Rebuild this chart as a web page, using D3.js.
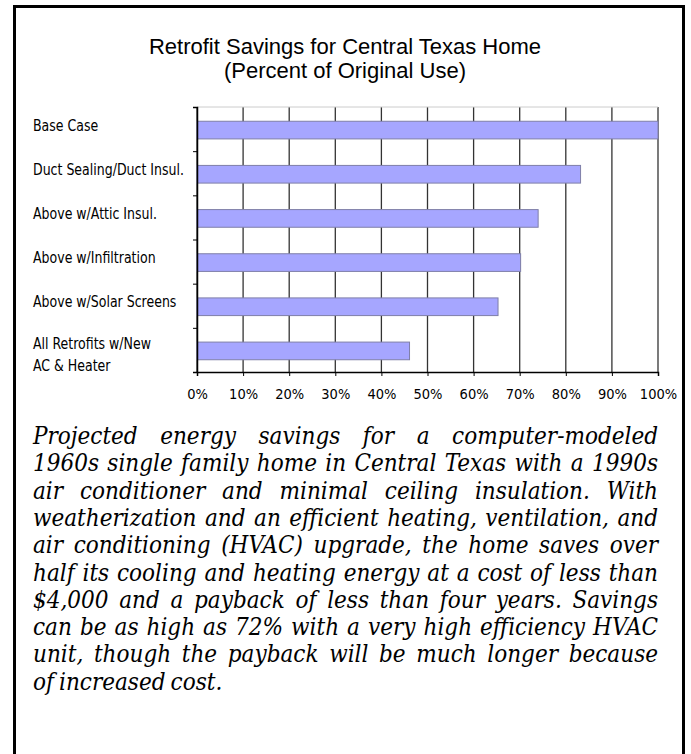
<!DOCTYPE html>
<html>
<head>
<meta charset="utf-8">
<script src="https://cdn.jsdelivr.net/npm/d3@7"></script>
<style>
    body { margin: 0; background: #fff; }
    svg { display: block; }
</style>
</head>
<body>
<div id="chart"></div>
<script>
// Chart data
const categories = [
    "Base Case",
    "Duct Sealing/Duct Insul.",
    "Above w/Attic Insul.",
    "Above w/Infiltration",
    "Above w/Solar Screens",
    "All Retrofits w/New\nAC & Heater"
];
const percentOfOriginal = [100, 83.2, 74.0, 70.2, 65.3, 46.1];
const tickValues = [0, 10, 20, 30, 40, 50, 60, 70, 80, 90, 100];
const titleLines = ["Retrofit Savings for Central Texas Home", "(Percent of Original Use)"];
const captionLines = [
    "Projected energy savings for a computer-modeled",
    "1960s single family home in Central Texas with a 1990s",
    "air conditioner and minimal ceiling insulation.  With",
    "weatherization and an efficient heating, ventilation, and",
    "air conditioning (HVAC) upgrade, the home saves over",
    "half its cooling and heating energy at a cost of less than",
    "$4,000 and a payback of less than four years.  Savings",
    "can be as high as 72% with a very high efficiency HVAC",
    "unit, though the payback will be much longer because",
    "of increased cost."
];

const width = 691, height = 754;
const plot = { left: 197, right: 658, top: 107, bottom: 372 };
const labelFont = "'Liberation Sans Narrow', 'DejaVu Sans Condensed', 'Arial Narrow', sans-serif";

const svg = d3.select("#chart").append("svg")
    .attr("width", width)
    .attr("height", height);

// Outer frame (bottom edge falls outside the picture)
svg.append("rect")
    .attr("x", 14.5).attr("y", 6.5)
    .attr("width", 669).attr("height", 800)
    .attr("fill", "none")
    .attr("stroke", "#000")
    .attr("stroke-width", 3);

// Title
svg.append("g").selectAll("text")
    .data(titleLines)
    .enter().append("text")
    .attr("x", 345)
    .attr("y", (d, i) => 54 + i * 24)
    .attr("text-anchor", "middle")
    .style("font-family", "'Liberation Sans', Arial, sans-serif")
    .style("font-size", "22px")
    .attr("fill", "#000")
    .text(d => d);

// Scales
const x = d3.scaleLinear().domain([0, 100]).range([plot.left, plot.right]);
const y = d3.scaleBand().domain(categories).range([plot.top, plot.bottom])
    .paddingInner(0.6).paddingOuter(0.3);
const yEdges = d3.scaleLinear().domain([0, categories.length]).range([plot.top, plot.bottom]);

// Gridlines
svg.append("g").selectAll("line")
    .data(tickValues)
    .enter().append("line")
    .attr("x1", d => x(d)).attr("x2", d => x(d))
    .attr("y1", plot.top).attr("y2", plot.bottom)
    .attr("stroke", "#333")
    .attr("stroke-width", 1.3);

svg.append("line")
    .attr("x1", plot.left).attr("x2", plot.right)
    .attr("y1", plot.top).attr("y2", plot.top)
    .attr("stroke", "#ccc");

// Bars
const data = categories.map((c, i) => ({ name: c, value: percentOfOriginal[i] }));
svg.append("g").selectAll("rect")
    .data(data)
    .enter().append("rect")
    .attr("x", x(0))
    .attr("y", d => y(d.name) + 1)
    .attr("width", d => x(d.value) - x(0))
    .attr("height", y.bandwidth())
    .attr("fill", "#a6a6ff")
    .attr("stroke", "#7f7fa8")
    .attr("stroke-width", 1);

// Axes
const xAxis = svg.append("g")
    .attr("transform", `translate(0,${plot.bottom})`)
    .call(d3.axisBottom(x).tickValues(tickValues).tickSize(4).tickPadding(13)
        .tickFormat(d => d + "%"));
const yAxis = svg.append("g")
    .attr("transform", `translate(${plot.left},0)`)
    .call(d3.axisLeft(yEdges).ticks(categories.length).tickSize(4).tickFormat(""));

[xAxis, yAxis].forEach(a => {
    a.select(".domain").attr("stroke", "#000").attr("stroke-width", 1.5);
    a.selectAll(".tick line").attr("stroke", "#000");
});
xAxis.selectAll(".tick text")
    .style("font-family", labelFont)
    .style("font-size", "14.5px")
    .attr("fill", "#000");

// Category labels (left aligned, may wrap over two lines), squeezed to look narrow
const labelGroup = svg.append("g")
    .attr("transform", "translate(33,0) scale(0.9,1)");
const labels = labelGroup.selectAll("text")
    .data(categories)
    .enter().append("text")
    .attr("x", 0)
    .attr("y", d => y(d) + y.bandwidth() / 2)
    .style("font-family", labelFont)
    .style("font-size", "15.5px")
    .attr("fill", "#000");
labels.each(function(d) {
    const parts = d.split("\n");
    const first = parts.length > 1 ? -0.05 : 0.1;
    d3.select(this).selectAll("tspan")
        .data(parts)
        .enter().append("tspan")
        .attr("x", 0)
        .attr("dy", (p, i) => i === 0 ? first + "em" : "1.42em")
        .text(p => p);
});

// Caption, justified word by word
const capLeft = 33, capRight = 658;
const caption = svg.append("g")
    .style("font-family", "'DejaVu Serif', 'Liberation Serif', serif")
    .style("font-style", "italic")
    .style("font-stretch", "condensed")
    .style("font-size", "24px")
    .attr("fill", "#000");

captionLines.forEach((line, i) => {
    const baseline = 444 + i * 27.3;
    const words = line.split(/\s+/);
    const isLast = i === captionLines.length - 1;
    const nodes = words.map(w => caption.append("text").attr("y", baseline).text(w));
    const widths = nodes.map(n => n.node().getComputedTextLength());
    const total = d3.sum(widths);
    const gap = isLast ? 5 : (capRight - capLeft - total) / (words.length - 1);
    let cx = capLeft;
    nodes.forEach((n, k) => {
        n.attr("x", cx);
        cx += widths[k] + gap;
    });
});
</script>
</body>
</html>
